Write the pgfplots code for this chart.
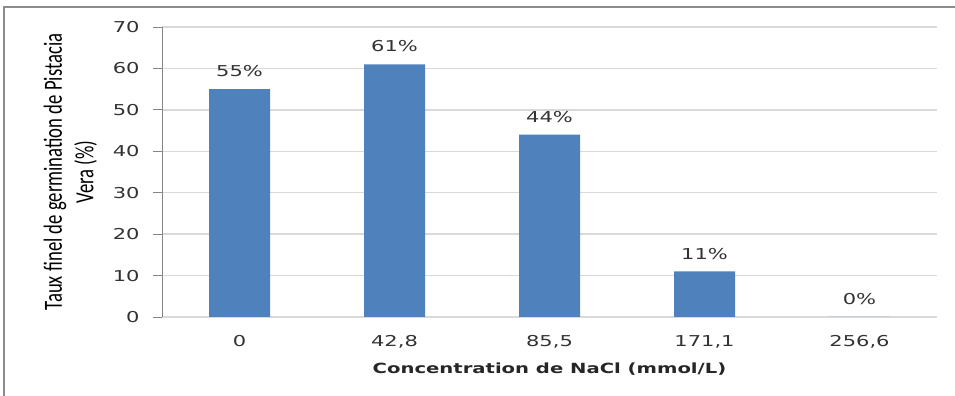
\documentclass[border=0pt]{standalone}
\usepackage{pgfplots}
\pgfplotsset{compat=1.18}
\usepackage{fontspec}
\setmainfont{DejaVu Sans}
\newfontfamily\tickfont[FakeStretch=1.4]{DejaVu Sans}
\newfontfamily\xlabfont[FakeStretch=1.4]{DejaVu Sans Bold}
\newfontfamily\ylabfont{Carlito}
\definecolor{barblue}{HTML}{4F81BD}
\definecolor{gridgray}{HTML}{D9D9D9}
\definecolor{axisgray}{HTML}{868686}
\definecolor{txt}{HTML}{333333}
\begin{document}
\begin{tikzpicture}
\useasboundingbox (0,0) rectangle (955bp,396bp);
\fill[white] (0,0) rectangle (955bp,396bp);
\draw[color={rgb,255:red,140;green,140;blue,140}, line width=2bp] (4bp,0) -- (4bp,389bp) -- (955bp,389bp);
\begin{axis}[
  at={(162bp,79bp)}, anchor=south west,
  width=775bp, height=290bp, scale only axis,
  xmin=-0.5, xmax=4.5, ymin=0, ymax=70,
  axis lines=left, axis line style={draw=axisgray, line width=0.9bp, -},
  x axis line style={draw=gridgray, line width=1.3bp},
  ytick={0,10,...,70},
  ymajorgrids, grid style={draw=gridgray, line width=1.3bp},
  ytick style={draw=axisgray, line width=0.9bp},
  xtick={0,1,2,3,4},
  xticklabels={0,{42,8},{85,5},{171,1},{256,6}},
  major x tick style={draw=none},
  extra x ticks={-0.5,0.5,1.5,2.5,3.5,4.5},
  extra x tick labels={},
  extra x tick style={major tick length=6bp, tick align=outside, tick style={draw=axisgray, line width=0.9bp}, grid=none},
  tick align=outside, major tick length=9bp,
  /pgf/number format/assume math mode=true,
  ticklabel style={font=\tickfont\fontsize{15bp}{18bp}\selectfont, text=txt},
  yticklabel style={xshift=-10bp},
  xticklabel style={yshift=-6bp},
  xlabel={Concentration de NaCl (mmol/L)},
  xlabel style={font=\xlabfont\fontsize{14bp}{17bp}\selectfont, text=black!85, at={(axis description cs:0.5,0)}, anchor=center, yshift=-52bp},
  ylabel={\scalebox{1}[1.4]{\ylabfont\fontsize{18.7bp}{23.6bp}\selectfont\begin{tabular}{@{}c@{}}Taux finel de germination de Pistacia\\[-1bp] Vera (\%)\end{tabular}}},
  ylabel style={at={(axis description cs:-0.1174,0.5)}, anchor=center, rotate=0},
  every axis y label/.append style={rotate=0},
  ybar, bar width=61bp,
  nodes near coords={\pgfmathprintnumber[assume math mode=true]{\pgfplotspointmeta}\%},
  every node near coord/.append style={font=\tickfont\fontsize{15bp}{18bp}\selectfont, text=txt, anchor=south, inner sep=0pt, yshift=12bp},
]
\addplot[fill=barblue, draw=none] coordinates {(0,55) (1,61) (2,44) (3,11) (4,0)};
\end{axis}
\end{tikzpicture}
\end{document}
